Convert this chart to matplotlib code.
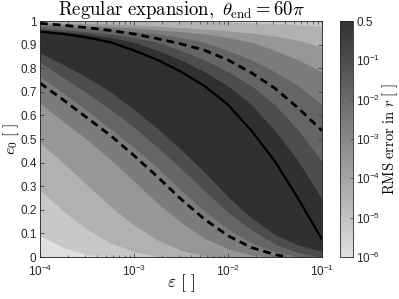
import numpy as np
import matplotlib
matplotlib.use('Agg')
import matplotlib.pyplot as plt
from matplotlib.colors import LinearSegmentedColormap, Normalize
from matplotlib.cm import ScalarMappable

plt.rcParams['mathtext.fontset'] = 'cm'
plt.rcParams['mathtext.rm'] = 'Liberation Sans'
plt.rcParams['mathtext.it'] = 'Liberation Sans:italic'
plt.rcParams['mathtext.bf'] = 'Liberation Sans:bold'
plt.rcParams['mathtext.sf'] = 'Liberation Sans'
plt.rcParams['font.family'] = ['Liberation Sans', 'DejaVu Sans']

# ---------------- data ----------------
# columns of epsilon (log10) at which boundaries are read
log_eps = np.array([-4.0, -3.75, -3.5, -3.25, -3.0, -2.75, -2.5, -2.25, -2.0, -1.75, -1.5, -1.25, -1.0])

# lower family of contour boundaries (e0), from light to dark
B1 = [0.090, 0.040, 0.010, 0.0, 0.0, 0.0, 0.0, 0.0, 0.0, 0.0, 0.0, 0.0, 0.0]
B2 = [0.283, 0.194, 0.118, 0.060, 0.022, 0.002, 0.0, 0.0, 0.0, 0.0, 0.0, 0.0, 0.0]
B3 = [0.485, 0.398, 0.306, 0.214, 0.135, 0.072, 0.028, 0.004, 0.0, 0.0, 0.0, 0.0, 0.0]
B4 = [0.650, 0.574, 0.498, 0.412, 0.321, 0.228, 0.146, 0.080, 0.034, 0.008, 0.0, 0.0, 0.0]
B5 = [0.766, 0.694, 0.620, 0.543, 0.464, 0.377, 0.283, 0.194, 0.118, 0.060, 0.022, 0.002, 0.0]
B6 = [0.825, 0.760, 0.695, 0.625, 0.550, 0.465, 0.375, 0.280, 0.190, 0.115, 0.055, 0.018, 0.0]
B7 = [0.865, 0.815, 0.760, 0.700, 0.625, 0.545, 0.455, 0.360, 0.255, 0.165, 0.095, 0.050, 0.025]
# upper family of contour boundaries (e0), from dark to light
U6 = [0.963, 0.955, 0.945, 0.930, 0.910, 0.875, 0.835, 0.785, 0.725, 0.645, 0.535, 0.405, 0.245]
U5 = [0.970, 0.963, 0.955, 0.945, 0.930, 0.910, 0.875, 0.835, 0.785, 0.725, 0.645, 0.535, 0.405]
U4 = [0.981, 0.976, 0.970, 0.963, 0.955, 0.945, 0.930, 0.910, 0.875, 0.835, 0.785, 0.725, 0.645]
U3 = [0.989, 0.985, 0.981, 0.976, 0.970, 0.963, 0.955, 0.945, 0.930, 0.910, 0.875, 0.835, 0.785]
U2 = [0.995, 0.992, 0.990, 0.987, 0.983, 0.978, 0.972, 0.966, 0.958, 0.949, 0.936, 0.918, 0.889]
U1 = [1.0, 1.0, 1.0, 1.0, 1.0, 1.0, 1.0, 0.998, 0.995, 0.992, 0.989, 0.984, 0.978]

# log10 RMS error represented by each band
lower_band_vals = [-6.0, -5.2, -4.4, -3.5, -2.6, -1.8, -1.0]   # below B1 ... B6-B7
dark_val = 0.0                                              # B7 .. U6
upper_band_vals = [-1.0, -1.8, -2.6, -3.5, -4.4, -5.2]       # U6-U5 ... above U1

# black curves
solid_e0 = [0.955, 0.945, 0.930, 0.910, 0.875, 0.835, 0.785, 0.725, 0.645, 0.535, 0.405, 0.245, 0.075]
dash_up_e0 = [0.990, 0.982, 0.972, 0.960, 0.945, 0.925, 0.903, 0.876, 0.835, 0.780, 0.715, 0.630, 0.535]
dash_low_log_eps = [-4.0, -3.75, -3.5, -3.25, -3.0, -2.75, -2.5, -2.25, -2.0, -1.75, -1.5, -1.36]
dash_low_e0 = [0.737, 0.665, 0.590, 0.515, 0.430, 0.340, 0.245, 0.160, 0.090, 0.040, 0.010, 0.0]

cbar_ticks = [-6, -5, -4, -3, -2, -1, 0]
cbar_labels = [r'$10^{-6}$', r'$10^{-5}$', r'$10^{-4}$', r'$10^{-3}$', r'$10^{-2}$', r'$10^{-1}$', '0.5']
yticks = [0, 0.1, 0.2, 0.3, 0.4, 0.5, 0.6, 0.7, 0.8, 0.9, 1.0]
yticklabels = ['0', '0.1', '0.2', '0.3', '0.4', '0.5', '0.6', '0.7', '0.8', '0.9', '1']
xticks = [1e-4, 1e-3, 1e-2, 1e-1]
xticklabels = [r'$10^{-4}$', r'$10^{-3}$', r'$10^{-2}$', r'$10^{-1}$']

# ---------------- plot ----------------
eps = 10.0 ** log_eps
cmap = LinearSegmentedColormap.from_list('g', [(0.875, 0.875, 0.875), (0.19, 0.19, 0.19)])
norm = Normalize(vmin=-6, vmax=0)

fig = plt.figure(figsize=(3.99, 2.99), dpi=100)
ax = fig.add_axes([40/399, 42/299, 282/399, 236/299])

# painter's order: topmost band first, then fill from 0 up to each boundary
upper_bounds = [U6, U5, U4, U3, U2, U1]
ax.fill_between(eps, 0, 1, color=cmap(norm(upper_band_vals[-1])), lw=0)
for k in range(len(upper_bounds) - 1, -1, -1):
    col = cmap(norm(upper_band_vals[k - 1])) if k > 0 else cmap(norm(dark_val))
    ax.fill_between(eps, 0, upper_bounds[k], color=col, lw=0)
lower_bounds = [B1, B2, B3, B4, B5, B6, B7]
for k in range(len(lower_bounds) - 1, -1, -1):
    ax.fill_between(eps, 0, lower_bounds[k], color=cmap(norm(lower_band_vals[k])), lw=0)

ax.plot(eps, solid_e0, color='k', lw=1.6)
ax.plot(eps, dash_up_e0, color='k', lw=2.0, dashes=(2.8, 1.8))
ax.plot(10.0 ** np.array(dash_low_log_eps), dash_low_e0, color='k', lw=2.0, dashes=(2.8, 1.8))

ax.set_xscale('log')
ax.set_xlim(1e-4, 1e-1)
ax.set_ylim(0, 1)
ax.set_xticks(xticks)
ax.set_xticklabels(xticklabels)
ax.set_yticks(yticks)
ax.set_yticklabels(yticklabels)
ax.tick_params(which='both', direction='in', top=True, right=True, labelsize=8.5,
               color='#404040', labelcolor='#262626')
ax.tick_params(which='major', length=3, width=0.6)
ax.tick_params(which='minor', length=1.8, width=0.5)
ax.tick_params(axis='x', pad=5)
ax.tick_params(axis='y', pad=2.5)
for lbl in ax.get_xticklabels() + ax.get_yticklabels():
    lbl.set_math_fontfamily('custom')
for s in ax.spines.values():
    s.set_color('#262626')
    s.set_linewidth(0.6)

ax.set_title(r'$\mathrm{Regular\ expansion,}\ \theta_{\mathrm{end}} = 60\pi$', fontsize=13.5, pad=4,
             math_fontfamily='cm')
ax.set_xlabel(r'$\varepsilon\ [\ ]$', fontsize=12.5, math_fontfamily='cm')
ax.set_ylabel(r'$e_0\ [\ ]$', fontsize=11.5, math_fontfamily='cm')
ax.xaxis.set_label_coords(0.5, -0.065)
ax.yaxis.set_label_coords(-0.068, 0.5)

cax = fig.add_axes([340/399, 42/299, 13/399, 236/299])
cb = fig.colorbar(ScalarMappable(norm=norm, cmap=cmap), cax=cax)
cb.set_ticks(cbar_ticks)
cb.set_ticklabels(cbar_labels)
cb.ax.tick_params(direction='in', labelsize=8.5, length=2, width=0.5, color='#404040',
                  labelcolor='#262626', pad=2.5)
for lbl in cb.ax.get_yticklabels():
    lbl.set_math_fontfamily('custom')
cb.outline.set_linewidth(0.6)
cb.outline.set_edgecolor('#262626')
cb.set_label(r'$\mathrm{RMS\ error\ in}\ r\ [\ ]$', fontsize=10.5, math_fontfamily='cm')
cb.ax.yaxis.set_label_coords(3.1, 0.5)

fig.savefig('out.png', dpi=100)
